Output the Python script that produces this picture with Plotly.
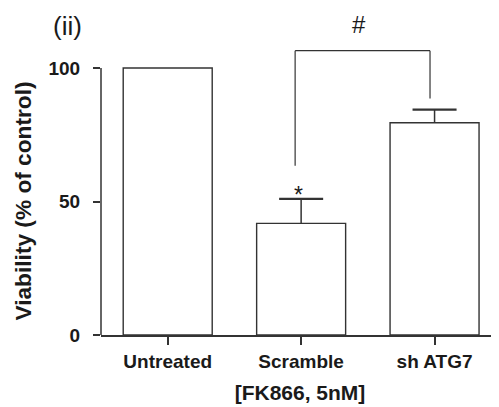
import plotly.graph_objects as go

categories = ["Untreated", "Scramble", "sh ATG7"]
viability = [100, 41.8, 79.5]
sem = [None, 9.2, 4.9]
ytick_vals = [0, 50, 100]
# significance bracket (x in category index units, y in data units)
bracket_x = [0.955, 1.966]
bracket_y_top = 106.5
bracket_y_left = 63.4
bracket_y_right = 88.6
hash_pos = (1.431, 116.3)
star_pos = (0.981, 52.6)

FONT = "Liberation Sans, Arial, sans-serif"
LINE = "#333333"
TXT = "#1a1a1a"
CAP_HALF = 0.165  # half cap width in category units

xs = list(range(len(categories)))

fig = go.Figure()
fig.add_trace(go.Bar(
    x=xs, y=viability,
    width=0.667,
    marker=dict(color="white", line=dict(color=LINE, width=1.4)),
    showlegend=False, hoverinfo="skip",
))

# upper-only error bars: stems and caps
stem_x, stem_y, cap_x, cap_y = [], [], [], []
for i, (v, e) in enumerate(zip(viability, sem)):
    if e is None:
        continue
    stem_x += [i, i, None]
    stem_y += [v, v + e, None]
    cap_x += [i - CAP_HALF, i + CAP_HALF, None]
    cap_y += [v + e, v + e, None]
fig.add_trace(go.Scatter(x=stem_x, y=stem_y, mode="lines", line=dict(color=LINE, width=1.5),
                         showlegend=False, hoverinfo="skip"))
fig.add_trace(go.Scatter(x=cap_x, y=cap_y, mode="lines", line=dict(color=LINE, width=2.2),
                         showlegend=False, hoverinfo="skip"))

# y axis line only from 0 to 100
fig.add_shape(type="line", xref="paper", yref="y", x0=0, x1=0, y0=0, y1=100,
              line=dict(color=LINE, width=1.5))
# bracket
for (xa, ya, xb, yb) in [
    (bracket_x[0], bracket_y_left, bracket_x[0], bracket_y_top),
    (bracket_x[0], bracket_y_top, bracket_x[1], bracket_y_top),
    (bracket_x[1], bracket_y_right, bracket_x[1], bracket_y_top),
]:
    fig.add_shape(type="line", xref="x", yref="y", x0=xa, x1=xb, y0=ya, y1=yb,
                  line=dict(color=LINE, width=1.2))

fig.add_annotation(x=hash_pos[0], y=hash_pos[1], text="#", showarrow=False,
                   font=dict(family=FONT, size=24, color=TXT))
fig.add_annotation(x=star_pos[0], y=star_pos[1], text="*", showarrow=False,
                   font=dict(family=FONT, size=23, color=TXT))
fig.add_annotation(x=-0.083, y=0.945, xref="paper", yref="paper", text="(ii)", showarrow=False,
                   xanchor="center", yanchor="middle",
                   font=dict(family=FONT, size=26, color=TXT))
# y-axis title centred on the 0-100 span
fig.add_annotation(x=(15 - 93) / 398, xref="paper", y=50, yref="y", text="<b>Viability (% of control)</b>",
                   showarrow=False, textangle=-90, xanchor="center", yanchor="middle",
                   font=dict(family=FONT, size=22.7, color=TXT))

fig.update_layout(
    width=491, height=399,
    margin=dict(l=93, r=0, t=0, b=72, autoexpand=False),
    paper_bgcolor="white", plot_bgcolor="white",
    font=dict(family=FONT, color=TXT),
    xaxis=dict(
        range=[-0.5, 2.483], tickmode="array", tickvals=xs,
        ticktext=[f"<b>{c}</b>" for c in categories],
        ticks="outside", ticklen=8, tickwidth=1.5, tickcolor=LINE,
        showline=True, linecolor=LINE, linewidth=1.5, showgrid=False, zeroline=False,
        tickfont=dict(family=FONT, size=19, color=TXT), automargin=False,
        title=dict(text="<b>[FK866, 5nM]</b>", font=dict(family=FONT, size=21, color=TXT), standoff=15),
    ),
    yaxis=dict(
        range=[0, 122.5], tickvals=ytick_vals, ticktext=[f"<b>{v}</b>" for v in ytick_vals],
        ticks="outside", ticklen=7, tickwidth=1.5, tickcolor=LINE,
        showline=False, showgrid=False, zeroline=False, automargin=False,
        tickfont=dict(family=FONT, size=19, color=TXT), ticklabelstandoff=9,
    ),
)

fig.write_html("out.html")
